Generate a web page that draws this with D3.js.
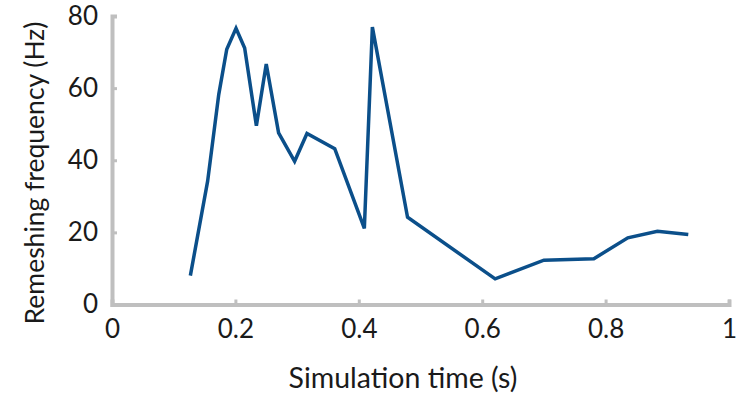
<!DOCTYPE html>
<html><head><meta charset="utf-8">
<script src="https://cdn.jsdelivr.net/npm/d3@7"></script>
<style>body{margin:0;background:#fff}svg{display:block}text{font-family:Lato,"Open Sans",sans-serif;fill:#1a1a1a}</style>
</head><body><svg id="c" width="736" height="403"></svg>
<script>
const timeS = [0.127,0.155,0.173,0.186,0.201,0.215,0.234,0.250,0.270,0.296,0.316,0.361,0.409,0.422,0.479,0.621,0.700,0.781,0.836,0.884,0.934];
const freqHz = [8.0,34.2,58.2,70.8,76.6,71.1,49.6,66.7,47.6,39.7,47.4,43.2,21.1,76.9,24.2,7.1,12.3,12.7,18.5,20.3,19.4];
const xTicks = [0,0.2,0.4,0.6,0.8,1];
const yTicks = [0,20,40,60,80];
const xTitle = "Simulation time (s)";
const yTitle = "Remeshing frequency (Hz)";

const svg = d3.select("#c");
const x = d3.scaleLinear().domain([0,1]).range([112,729]);
const y = d3.scaleLinear().domain([0,80]).range([304.5,16]);
const axisColor = "#bfbfbf";

const xa = svg.append("g").attr("transform","translate(0,304.5)")
  .call(d3.axisBottom(x).tickValues(xTicks).tickSize(-5).tickPadding(15).tickFormat(d3.format("")));
const ya = svg.append("g").attr("transform","translate(112,0)")
  .call(d3.axisLeft(y).tickValues(yTicks).tickSize(-5).tickPadding(14));
[xa,ya].forEach(g=>{
  g.select(".domain").attr("stroke",axisColor).attr("stroke-width",4);
  g.selectAll(".tick line").attr("stroke",axisColor).attr("stroke-width",3);
  g.selectAll(".tick text").style("font-size","26px").attr("fill","#1a1a1a");
});
xa.selectAll(".tick text").attr("dy","0.71em");

const line = d3.line().x((d,i)=>x(timeS[i])).y(d=>y(d));
svg.append("path").datum(freqHz).attr("d",line)
  .attr("fill","none").attr("stroke","#0b4f8a").attr("stroke-width",3.5).attr("stroke-linejoin","miter");

svg.append("text").attr("x",403).attr("y",388).attr("text-anchor","middle")
  .style("font-size","28.5px").text(xTitle);
svg.append("text").attr("transform","translate(44,173) rotate(-90)").attr("text-anchor","middle")
  .style("font-size","26.5px").text(yTitle);
</script></body></html>
